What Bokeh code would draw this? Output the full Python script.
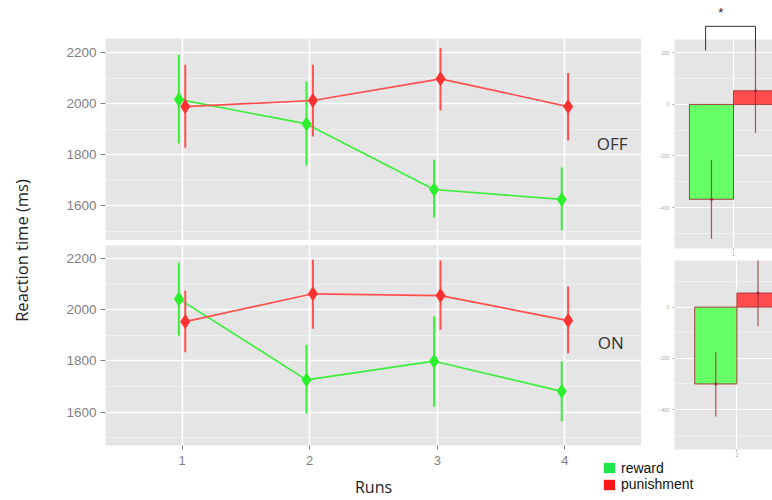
from math import pi
from bokeh.plotting import figure
from bokeh.models import (Range1d, FixedTicker, ColumnDataSource, Legend, LegendItem,
                          Label, GridBox)
from bokeh.layouts import column
from bokeh.transform import dodge
from bokeh.embed import file_html
from bokeh.resources import INLINE
from bokeh.core.properties import value

# ---------------- data ----------------
runs = [1, 2, 3, 4]
off_reward = [2016, 1920, 1663, 1624]
off_reward_lo = [1843, 1757, 1553, 1502]
off_reward_hi = [2191, 2086, 1780, 1749]
off_pun = [1988, 2012, 2097, 1988]
off_pun_lo = [1827, 1871, 1973, 1855]
off_pun_hi = [2152, 2152, 2218, 2120]

on_reward = [2043, 1726, 1799, 1681]
on_reward_lo = [1899, 1593, 1621, 1564]
on_reward_hi = [2184, 1863, 1975, 1799]
on_pun = [1954, 2063, 2056, 1958]
on_pun_lo = [1834, 1926, 1922, 1830]
on_pun_hi = [2076, 2196, 2193, 2091]

y_ticks = [1600, 1800, 2000, 2200]
y_minor = [1500, 1700, 1900, 2100]

diff_cats = ["1", "2"]
diff_reward = [-368, -300]
diff_reward_lo = [-521, -427]
diff_reward_hi = [-215, -176]
diff_pun = [53, 55]
diff_pun_lo = [-111, -75]
diff_pun_hi = [210, 183]
diff_ticks = [-400, -200, 0, 200]
diff_minor = [-500, -300, -100, 100]

# significance bracket (in the top difference panel's units)
bracket_x = [0.715, 0.715, 1.225, 1.225]
bracket_y = [210, 303, 303, 210]
star_x = [0.87]
star_y = [357]

# ---------------- styles ----------------
GREEN = "#2cf02c"
RED = "#ff3030"
GREEN_LINE = "#3cee3c"
RED_LINE = "#ff5050"
BAR_GREEN = "#66ff66"
BAR_RED = "#ff4c4c"
BAR_EDGE = "#a83c3c"
ERR_DARK = "#9b2d3d"
LEG_GREEN = "#1de64b"
LEG_RED = "#ff1a1a"
PANEL_BG = "#e5e5e5"
TICK_GREY = "#7f7f7f"
FONT = "Liberation Sans"
FONT2 = "Open Sans"

W, H = 772, 500
LAB_W = 48
LEFT_W = 593
RIGHT_W = W - LAB_W - LEFT_W   # 131

# top difference panel geometry (pixels) and ranges
TR_LEFT, TR_TOP, TR_BOTTOM = 33, 39, 12
TR_X = (0.397, 1.399)
TR_Y = (-559, 252)


def base(p):
    p.background_fill_color = PANEL_BG
    p.border_fill_color = "white"
    p.outline_line_color = None
    p.grid.grid_line_color = "white"
    p.grid.grid_line_width = 1.6
    p.ygrid.minor_grid_line_color = "#f2f2f2"
    p.ygrid.minor_grid_line_width = 0.8


def style_axis(ax, size, color, tick_out, standoff):
    ax.axis_line_color = None
    ax.major_tick_line_color = color
    ax.major_tick_out = tick_out
    ax.major_tick_in = 0
    ax.minor_tick_line_color = None
    ax.major_label_text_font = FONT
    ax.major_label_text_font_size = size
    ax.major_label_text_color = color
    ax.major_label_standoff = standoff


def line_panel(reward, rlo, rhi, pun, plo, phi, yr, h, top, bottom, label, label_xy, show_x):
    p = figure(width=LEFT_W, height=h, x_range=Range1d(0.4, 4.6), y_range=Range1d(*yr),
               x_axis_location="below" if show_x else None,
               toolbar_location=None, output_backend="svg",
               min_border_left=57, min_border_right=0,
               min_border_top=top, min_border_bottom=bottom)
    base(p)
    p.yaxis.ticker = FixedTicker(ticks=y_ticks, minor_ticks=y_minor)
    style_axis(p.yaxis[0], "13.5px", TICK_GREY, 5, 4)
    if show_x:
        p.xaxis.ticker = FixedTicker(ticks=runs)
        style_axis(p.xaxis[0], "13px", TICK_GREY, 4, 6)
        p.xaxis.axis_label = "Runs"
        p.xaxis.axis_label_text_font = FONT2
        p.xaxis.axis_label_text_font_style = "normal"
        p.xaxis.axis_label_text_font_size = "16px"
        p.xaxis.axis_label_text_color = "#222222"
        p.xaxis.axis_label_standoff = 8
    else:
        p.xgrid.ticker = FixedTicker(ticks=runs)

    src = ColumnDataSource(dict(run=runs, r=reward, rlo=rlo, rhi=rhi, u=pun, ulo=plo, uhi=phi))
    gx = dodge("run", -0.025)
    rx = dodge("run", 0.025)
    p.segment(x0=gx, y0="rlo", x1=gx, y1="rhi", source=src, line_color=GREEN_LINE, line_width=2)
    p.line(x=gx, y="r", source=src, line_color=GREEN_LINE, line_width=1.7)
    p.scatter(x=gx, y="r", source=src, marker="diamond", size=13.5,
              fill_color=GREEN, line_color=GREEN)
    p.segment(x0=rx, y0="ulo", x1=rx, y1="uhi", source=src, line_color=RED_LINE, line_width=2)
    p.line(x=rx, y="u", source=src, line_color=RED_LINE, line_width=1.7)
    p.scatter(x=rx, y="u", source=src, marker="diamond", size=13.5,
              fill_color=RED, line_color=RED)

    p.add_layout(Label(x=label_xy[0], y=label_xy[1], text=label, text_align="center",
                       text_baseline="middle", text_font=FONT2, text_font_size="17px",
                       text_color="#333333"))
    return p


def bar_panel(i, xr, yr, h, left, top, bottom):
    p = figure(width=RIGHT_W, height=h, x_range=Range1d(*xr), y_range=Range1d(*yr),
               toolbar_location=None, output_backend="svg",
               min_border_left=left, min_border_right=0,
               min_border_top=top, min_border_bottom=bottom)
    base(p)
    p.grid.grid_line_width = 1.2
    p.yaxis.ticker = FixedTicker(ticks=diff_ticks, minor_ticks=diff_minor)
    p.xaxis.ticker = FixedTicker(ticks=[1])
    p.xaxis.major_label_overrides = {1: diff_cats[i]}
    style_axis(p.yaxis[0], "5px", "#a8a8a8", 2, 1)
    style_axis(p.xaxis[0], "5px", "#a8a8a8", 2, 1)
    src = ColumnDataSource(dict(x=[1], r=[diff_reward[i]], rlo=[diff_reward_lo[i]],
                                rhi=[diff_reward_hi[i]], u=[diff_pun[i]],
                                ulo=[diff_pun_lo[i]], uhi=[diff_pun_hi[i]]))
    gx = dodge("x", -0.225)
    rx = dodge("x", 0.225)
    p.vbar(x=gx, top="r", bottom=0, width=0.45, source=src,
           fill_color=BAR_GREEN, line_color=BAR_EDGE, line_width=1)
    p.vbar(x=rx, top="u", bottom=0, width=0.45, source=src,
           fill_color=BAR_RED, line_color=BAR_EDGE, line_width=1)
    for xx, lo, hi, yy in ((gx, "rlo", "rhi", "r"), (rx, "ulo", "uhi", "u")):
        p.segment(x0=xx, y0=lo, x1=xx, y1=hi, source=src, line_color=ERR_DARK,
                  line_width=1.2, line_alpha=0.8)
        p.scatter(x=xx, y=yy, source=src, size=3, fill_color=ERR_DARK, line_color=None)
    return p


tl = line_panel(off_reward, off_reward_lo, off_reward_hi, off_pun, off_pun_lo, off_pun_hi,
                (1463, 2255), 240, 38, 0, "OFF", (4.37, 1843), False)
bl = line_panel(on_reward, on_reward_lo, on_reward_hi, on_pun, on_pun_lo, on_pun_hi,
                (1469, 2252), 260, 5, 55, "ON", (4.36, 1872), True)

tr = bar_panel(0, TR_X, TR_Y, 260, TR_LEFT, TR_TOP, TR_BOTTOM)
br = bar_panel(1, (0.334, 1.380), (-556, 182), 240, 31, 0, 51)

# y-axis title spanning both rows
lab = figure(width=LAB_W, height=H, x_range=Range1d(0, LAB_W), y_range=Range1d(0, H),
             x_axis_location=None, y_axis_location=None, toolbar_location=None,
             output_backend="svg", min_border=0)
lab.grid.visible = False
lab.outline_line_color = None
lab.background_fill_color = "white"
lab.text(x=[21], y=[250], text=["Reaction time (ms)"], angle=pi / 2, text_align="center",
         text_baseline="middle", text_font=value(FONT2), text_font_size="16.5px",
         text_color="#222222")

# transparent overlay over both panel columns, sharing the top difference panel's
# units so the significance bracket can reach above that panel's frame
OV_W = LEFT_W + RIGHT_W
fx0 = LEFT_W + TR_LEFT                 # frame left of the top difference panel
fw = OV_W - fx0
fh = 260 - TR_TOP - TR_BOTTOM
ux = (TR_X[1] - TR_X[0]) / fw
uy = (TR_Y[1] - TR_Y[0]) / fh
ov_x = (TR_X[0] - fx0 * ux, TR_X[1])
ov_y = (TR_Y[0] - (H - TR_TOP - fh) * uy, TR_Y[1] + TR_TOP * uy)

ov = figure(width=OV_W, height=H, x_range=Range1d(*ov_x), y_range=Range1d(*ov_y),
            x_axis_location=None, y_axis_location=None, toolbar_location=None,
            output_backend="svg", min_border=0)
ov.grid.visible = False
ov.outline_line_color = None
ov.background_fill_color = None
ov.border_fill_color = None
ov.line(x=bracket_x, y=bracket_y, line_color="#333333", line_width=1)
ov.text(x=star_x, y=star_y, text=["*"], text_align="center", text_baseline="middle",
        text_font=value(FONT), text_font_size="13px", text_color="#222222")

# legend swatches (dummy renderers placed outside the visible range)
sw = ColumnDataSource(dict(x=[ov_x[0] - 10], top=[0]))
rg = ov.vbar(x="x", top="top", width=0.1, source=sw, fill_color=LEG_GREEN, line_color=None)
rr = ov.vbar(x="x", top="top", width=0.1, source=sw, fill_color=LEG_RED, line_color=None)
for rend, txt, vy in ((rg, "reward", 24.5), (rr, "punishment", 8)):
    leg = Legend(items=[LegendItem(label=txt, renderers=[rend])],
                 location=(554, vy), glyph_width=14, glyph_height=13, label_height=13,
                 spacing=0, padding=0, margin=0, label_standoff=5,
                 border_line_color=None, background_fill_alpha=0,
                 label_text_font=FONT, label_text_font_size="14px",
                 label_text_color="#111111")
    ov.add_layout(leg, "center")

grid = GridBox(children=[(lab, 0, 0), (column(tl, bl), 0, 1), (column(tr, br), 0, 2),
                         (ov, 0, 1, 1, 2)], spacing=0)

open("out.html", "w").write(file_html(grid, INLINE))
